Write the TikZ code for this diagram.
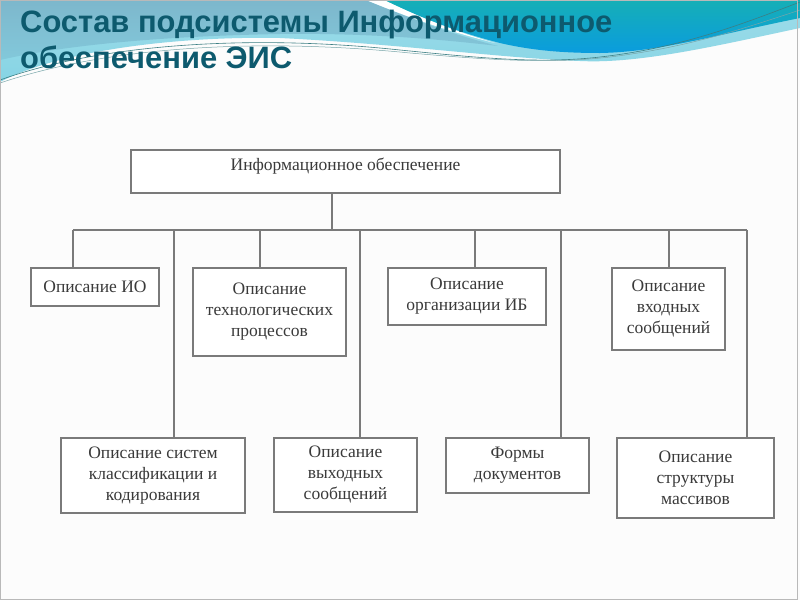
\documentclass[tikz,border=0pt]{standalone}
\usepackage{fontspec}
\setmainfont{Liberation Serif}
\newfontfamily\titlefont{Liberation Sans}
\definecolor{titleblue}{HTML}{0D5A6E}
\definecolor{linegray}{HTML}{7A7A7A}
\definecolor{textgray}{HTML}{3A3A3A}
\definecolor{wavecyan}{HTML}{86D4E4}
\definecolor{wavegray}{HTML}{7DB7CC}
\definecolor{waveteal}{HTML}{16AFB6}
\definecolor{waveblue}{HTML}{0A9CDE}
\definecolor{wavelinecol}{HTML}{3C7F84}
\tikzset{
  blok/.style={draw=linegray, line width=1.2pt, fill=white, align=center, inner sep=2pt,
    text=textgray, font=\fontsize{17.5}{21}\selectfont},
  svyaz/.style={draw=linegray, line width=1.2pt},
  zagolovok/.style={anchor=base west, inner sep=0pt, text=titleblue,
    font=\titlefont\bfseries\fontsize{30.9}{36}\selectfont}
}
\begin{document}
\begin{tikzpicture}[x=1pt,y=-1pt]
	\useasboundingbox (0,0) rectangle (800,600);
	\fill[white!98!gray] (0,0) rectangle (800,600);

	% waves at the top
	\shade[top color=wavecyan!80, bottom color=wavecyan] (0,0) -- (800,0) -- (800,28)
		.. controls (720,45) and (640,64) .. (580,61)
		.. controls (500,58) and (400,44) .. (280,38)
		.. controls (180,36) and (60,50) .. (0,82) -- cycle;
	\shade[top color=wavegray, bottom color=wavecyan!60!wavegray] (0,0) -- (366,0)
		.. controls (410,18) and (450,34) .. (498,46)
		.. controls (430,38) and (360,33) .. (280,34)
		.. controls (170,36) and (70,44) .. (0,60) -- cycle;
	\shade[top color=waveteal, bottom color=waveblue] (384,0) -- (800,0) -- (800,18)
		.. controls (720,34) and (660,52) .. (600,53)
		.. controls (560,53) and (530,50) .. (500,43)
		.. controls (450,30) and (415,15) .. (384,0) -- cycle;
	\fill[white] (366,0) -- (384,0) .. controls (415,15) and (450,30) .. (495,43)
		.. controls (450,32) and (410,18) .. (366,0) -- cycle;
	\draw[wavelinecol, line width=0.6pt] (0,80) .. controls (100,44) and (250,34) .. (400,50)
		.. controls (480,58) and (540,64) .. (600,57) .. controls (680,48) and (740,25) .. (800,2);
	\draw[wavelinecol!70, line width=0.5pt] (0,83) .. controls (110,46) and (260,38) .. (410,53)
		.. controls (490,60) and (550,64) .. (610,57) .. controls (690,47) and (745,28) .. (800,10);
	\draw[gray!55, line width=1pt] (0.5,0.5) rectangle (797,599.5);

	\node[zagolovok] (zag1) at (20,32) {Состав подсистемы Информационное};
	\node[zagolovok] (zag2) at (20,68) {обеспечение ЭИС};

	% boxes
	\node[blok, minimum width=429pt, minimum height=43pt, text depth=15pt] (infob) at (345.5,171.5) {Информационное обеспечение};
	\node[blok, minimum width=128pt, minimum height=38pt] (io) at (95,287) {Описание ИО};
	\node[blok, minimum width=153pt, minimum height=88pt] (tech) at (269.5,312) {Описание\\технологических\\процессов};
	\node[blok, minimum width=158pt, minimum height=57pt] (ib) at (467,296.5) {Описание\\организации ИБ};
	\node[blok, minimum width=113pt, minimum height=82pt] (vhod) at (668.5,309) {Описание\\входных\\сообщений};
	\node[blok, minimum width=184pt, minimum height=75pt] (klass) at (153,475.5) {Описание систем\\классификации и\\кодирования};
	\node[blok, minimum width=143pt, minimum height=74pt] (vyh) at (345.5,475) {Описание\\выходных\\сообщений};
	\node[blok, minimum width=143pt, minimum height=55pt] (form) at (517.5,465.5) {Формы\\документов};
	\node[blok, minimum width=157pt, minimum height=80pt] (struct) at (695.5,478) {Описание\\структуры\\массивов};

	% lines
	\coordinate (uzel) at (332,230);
	\coordinate (shinaL) at (73,230);
	\coordinate (shinaR) at (747,230);
	\draw[svyaz] (uzel |- infob.south) -- (uzel);
	\draw[svyaz] (shinaL) -- (shinaR);
	\foreach \x/\cel in {73/io,174/klass,260/tech,360/vyh,475/ib,561/form,669/vhod,747/struct}{
		\coordinate (otvod) at (\x,230);
		\draw[svyaz] (otvod) -- (otvod |- \cel.north);
	}
\end{tikzpicture}
\end{document}
